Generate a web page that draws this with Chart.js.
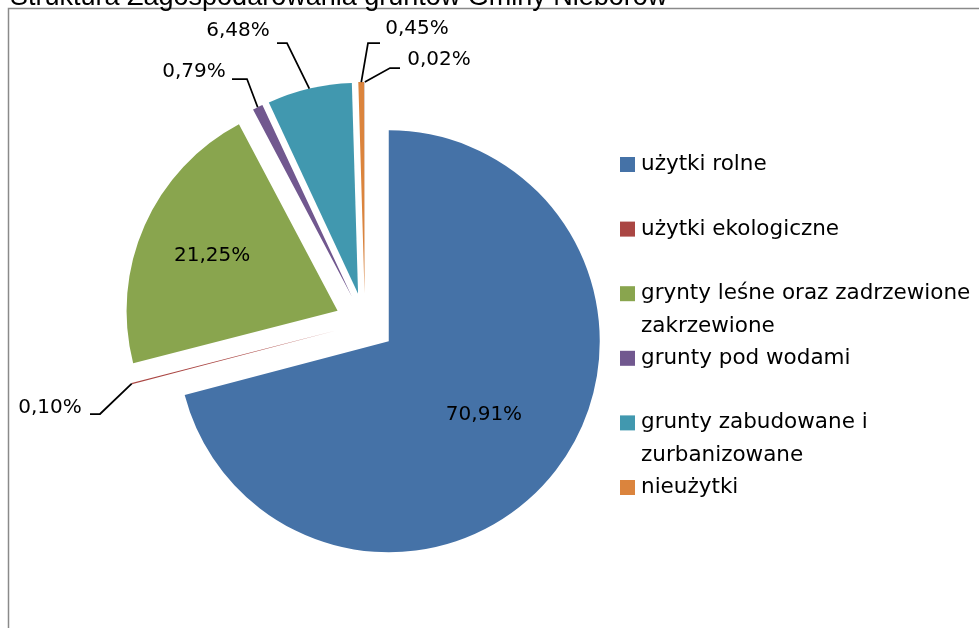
<!DOCTYPE html>
<html>
<head>
<meta charset="utf-8">
<script src="https://cdn.jsdelivr.net/npm/chart.js"></script>
<style>
  html, body { margin: 0; padding: 0; background: #fff; }
  #wrap { width: 979px; height: 628px; }
</style>
</head>
<body>
<div id="wrap"><canvas id="pieChart" width="979" height="628"></canvas></div>
<script>
// dane (procent powierzchni gminy)
var kategorie = [
    'użytki rolne',
    'użytki ekologiczne',
    ['grynty leśne oraz zadrzewione i', 'zakrzewione'],
    'grunty pod wodami',
    ['grunty zabudowane i', 'zurbanizowane'],
    'nieużytki',
    'tereny różne'
];
var udzial = [70.91, 0.10, 21.25, 0.79, 6.48, 0.45, 0.02];

var tytul = 'Struktura Zagospodarowania gruntów Gminy Nieborów';

// kolory jak w Excelu
var kolory = ['#4572A7', '#AA4643', '#89A54E', '#71588F', '#4198AF', '#DB843D', '#93A9CF'];

var explode = 30;
var labelFont = '20px "DejaVu Sans"';
var legendFont = '21.5px "DejaVu Sans"';

// gdzie stoja etykiety: inside = ulamek promienia, reszta na zewnatrz z lamana linia
var etykiety = [
    {inside: 0.57},
    {x: 50, y: 408, knee: [[90, 414], [100, 414]]},
    {inside: 0.65},
    {x: 194, y: 72, knee: [[232, 79], [247, 79]]},
    {x: 238, y: 31, knee: [[277, 43], [287, 43]]},
    {x: 417, y: 29, knee: [[380, 43], [368, 43]]},
    {x: 439, y: 60, knee: [[400, 68], [390, 68]]}
];

// legenda w Excelu uciela ostatnia pozycje
var legendaIle = 6;

function midAngle(arc) {
    return (arc.startAngle + arc.endAngle) / 2;
}

function fmt(v) {
    return v.toFixed(2).replace('.', ',') + '%';
}

var excelPie = {
    id: 'excelPie',
    beforeDraw: function(chart) {
        var ctx = chart.ctx;
        ctx.save();
        ctx.fillStyle = '#fff';
        ctx.fillRect(0, 0, chart.width, chart.height);
        ctx.strokeStyle = '#8a8a8a';
        ctx.lineWidth = 1.5;
        ctx.strokeRect(8.5, 8.5, 1200, 1200);
        ctx.fillStyle = '#000';
        ctx.font = '27px "Liberation Sans"';
        ctx.textBaseline = 'alphabetic';
        ctx.fillText(tytul, 10, 5);
        ctx.restore();
    },
    beforeDatasetDraw: function(chart, args) {
        // kazdy wycinek odsuniety od srodka o te sama odleglosc (jak w Excelu)
        var ctx = chart.ctx;
        args.meta.data.forEach(function(arc) {
            var a = midAngle(arc);
            ctx.save();
            ctx.translate(Math.cos(a) * explode, Math.sin(a) * explode);
            arc.draw(ctx);
            ctx.restore();
        });
        return false;
    },
    afterDatasetsDraw: function(chart) {
        var ctx = chart.ctx;
        var arcs = chart.getDatasetMeta(0).data;
        ctx.save();
        ctx.font = labelFont;
        ctx.fillStyle = '#000';
        ctx.textAlign = 'center';
        ctx.textBaseline = 'middle';
        arcs.forEach(function(arc, i) {
            var a = midAngle(arc);
            var cx = arc.x + Math.cos(a) * explode;
            var cy = arc.y + Math.sin(a) * explode;
            var e = etykiety[i];
            var txt = fmt(udzial[i]);
            if (e.inside) {
                var r = arc.outerRadius * e.inside;
                ctx.fillText(txt, cx + Math.cos(a) * r, cy + Math.sin(a) * r);
            } else {
                ctx.fillText(txt, e.x, e.y);
                ctx.beginPath();
                ctx.strokeStyle = '#000';
                ctx.lineWidth = 1.75;
                ctx.moveTo(e.knee[0][0], e.knee[0][1]);
                ctx.lineTo(e.knee[1][0], e.knee[1][1]);
                ctx.lineTo(cx + Math.cos(a) * arc.outerRadius, cy + Math.sin(a) * arc.outerRadius);
                ctx.stroke();
            }
        });

        // legenda
        ctx.font = legendFont;
        ctx.textAlign = 'left';
        var y0 = 164.5, step = 64.6, lineH = 32.5;
        for (var i = 0; i < legendaIle; i++) {
            var y = y0 + i * step;
            ctx.fillStyle = kolory[i];
            ctx.fillRect(620, y - 7.5, 15, 15);
            ctx.fillStyle = '#000';
            var lines = [].concat(kategorie[i]);
            lines.forEach(function(t, k) {
                ctx.fillText(t, 641, y + k * lineH);
            });
        }
        ctx.restore();
    }
};

function $id(id) { return document.getElementById(id); }
var pieCanvas = $id('pieChart');

new Chart(pieCanvas.getContext('2d'), {
    type: 'pie',
    data: {
        labels: kategorie,
        datasets: [{
            data: udzial,
            backgroundColor: kolory,
            borderWidth: 0
        }]
    },
    options: {
        responsive: false,
        animation: false,
        radius: 211,
        layout: { padding: { left: 0, right: 249, top: 18, bottom: 0 } },
        plugins: {
            legend: { display: false },
            tooltip: { enabled: false }
        }
    },
    plugins: [excelPie]
});
</script>
</body>
</html>
